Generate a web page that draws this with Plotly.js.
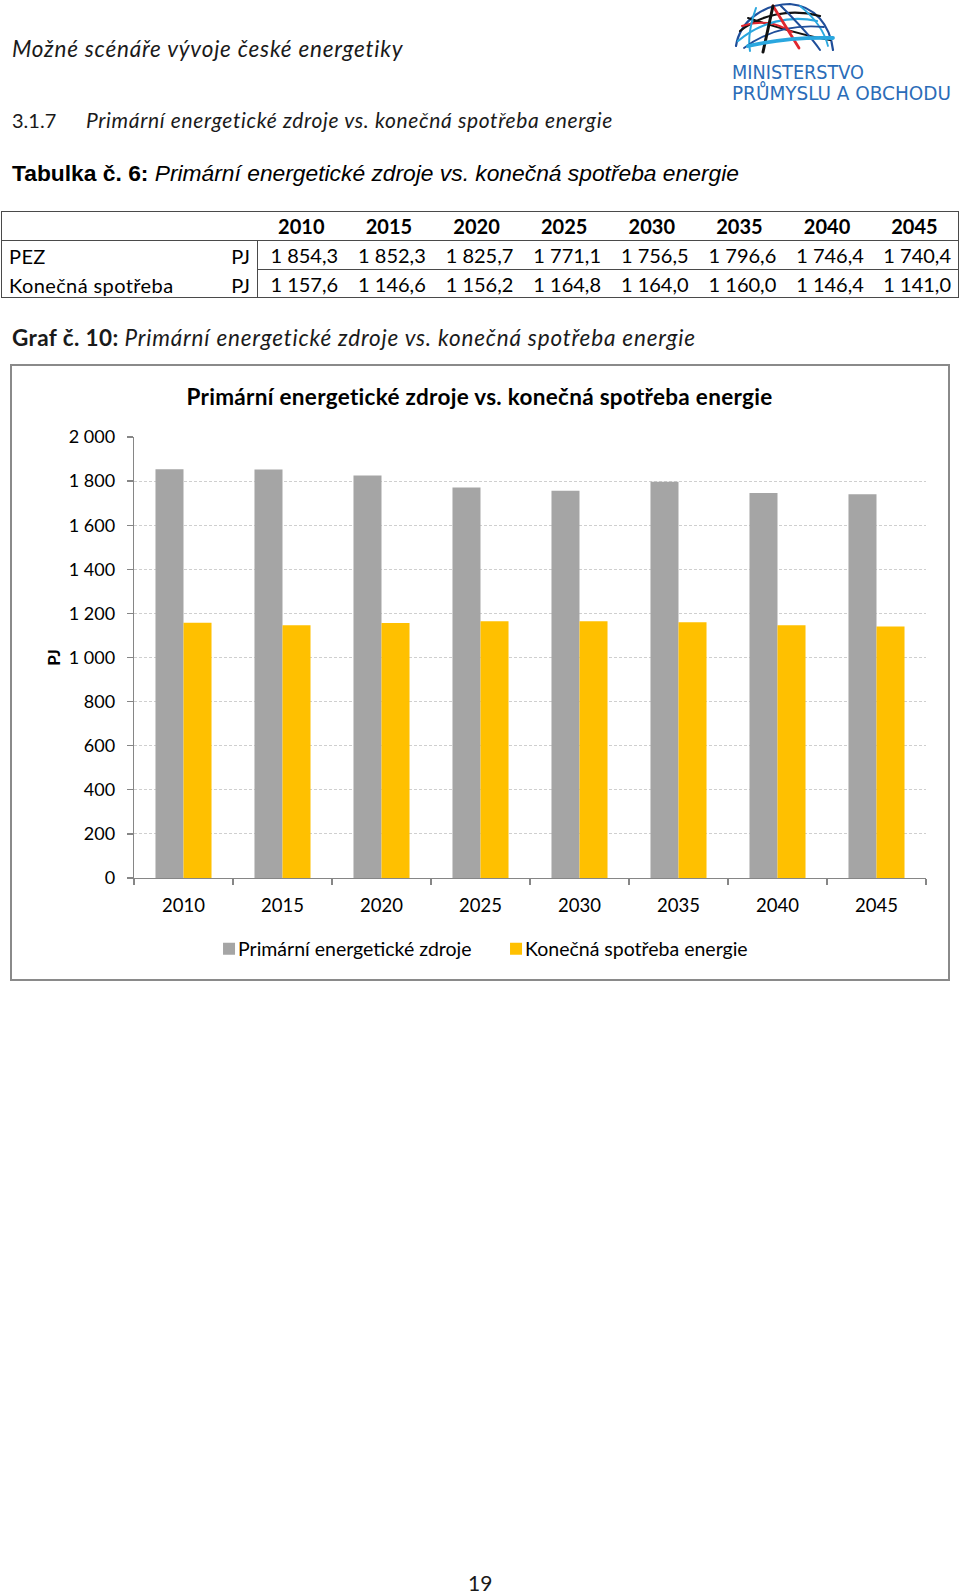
<!DOCTYPE html>
<html><head><meta charset="utf-8">
<script src="https://cdn.plot.ly/plotly-3.0.1.min.js"></script>
<style>
html,body{margin:0;padding:0;background:#fff}
body{width:960px;height:1595px;position:relative;overflow:hidden;font-family:Lato,"Open Sans",sans-serif;color:#000}
.t{position:absolute;white-space:nowrap;line-height:1}
.i{font-style:italic}
#tbl{position:absolute;left:1px;top:211px;width:958px;border-collapse:collapse;table-layout:fixed;border:1.5px solid #4a4a4a;font-family:Lato,sans-serif;font-size:20px}
#tbl td,#tbl th{padding:0;line-height:1;white-space:nowrap}
#tbl tr.h th,#tbl tr.h td{border-bottom:1.5px solid #4a4a4a;height:28px;font-weight:bold;text-align:center}
#tbl tr.r1 td{height:28px}
#tbl tr.r2 td{height:27px}
#tbl tr.r1 td.v{border-bottom:1px solid #4a4a4a}
#tbl td.l{border-right:1.5px solid #4a4a4a;position:relative}
#tbl td.l .n{position:absolute;left:7px;top:5px;letter-spacing:0.4px}
#tbl td.l .u{position:absolute;right:7px;top:5px}
#tbl td.v{text-align:right;padding-right:7px}
#frame{position:absolute;left:10px;top:364px;width:936px;height:613px;border:2px solid #8a8a8a}
#chart{position:absolute;left:11px;top:365px;width:937px;height:615px}
</style></head><body>

<div class="t i" style="left:12px;top:38px;font-size:22.5px;letter-spacing:0.8px;color:#1a1a1a">Možné scénáře vývoje české energetiky</div>

<svg style="position:absolute;left:720px;top:0" width="240" height="105" viewBox="0 0 240 105">
  <g fill="none" stroke-linecap="round">
    <path d="M16,46 C20,20 45,4 70,4 C95,6 110,25 113,50" stroke="#1f4e9a" stroke-width="2.2"/>
    <path d="M20,31 C40,15 70,8 100,16" stroke="#111" stroke-width="2.2"/>
    <path d="M28,18 C50,25 80,35 110,40" stroke="#111" stroke-width="2"/>
    <path d="M22,26 C40,20 55,22 72,32" stroke="#e0262e" stroke-width="2"/>
    <path d="M18,41 C40,22 70,15 97,21" stroke="#2aa7df" stroke-width="2.2"/>
    <path d="M60,5 C75,20 90,35 100,50" stroke="#1f4e9a" stroke-width="2"/>
    <path d="M36,8 C30,25 28,40 30,51" stroke="#2aa7df" stroke-width="2"/>
    <path d="M80,6 C95,18 104,30 108,46" stroke="#2aa7df" stroke-width="1.8"/>
    <path d="M24,48 C45,32 70,24 104,27" stroke="#1f4e9a" stroke-width="1.8"/>
    <path d="M53,6 L79,48" stroke="#e0262e" stroke-width="2.8"/>
    <path d="M43,52 L53,6" stroke="#111" stroke-width="3"/>
    <path d="M28,46 C55,40 85,37 113,38" stroke="#2aa7df" stroke-width="3.8"/>
  </g>
  <text x="12" y="79" font-family="Liberation Sans Narrow, DejaVu Sans Condensed, Liberation Sans" font-size="19" fill="#2b6cb8" textLength="132" lengthAdjust="spacingAndGlyphs">MINISTERSTVO</text>
  <text x="12" y="100" font-family="Liberation Sans Narrow, DejaVu Sans Condensed, Liberation Sans" font-size="19" fill="#2b6cb8" textLength="219" lengthAdjust="spacingAndGlyphs">PRŮMYSLU A OBCHODU</text>
</svg>

<div class="t" style="left:12px;top:110px;font-size:20px;color:#1a1a1a">3.1.7</div>
<div class="t i" style="left:86px;top:109px;font-size:21px;letter-spacing:0.65px;color:#1a1a1a">Primární energetické zdroje vs. konečná spotřeba energie</div>

<div class="t" style="left:12px;top:162px;font-size:22.8px;font-family:'Liberation Sans',Arial,sans-serif"><b>Tabulka č. 6:</b> <span class="i">Primární energetické zdroje vs. konečná spotřeba energie</span></div>

<table id="tbl"></table>

<div class="t" style="left:12px;top:327px;font-size:22.5px;color:#1a1a1a"><b style="letter-spacing:0.4px">Graf č. 10:</b> <span class="i" style="letter-spacing:0.82px">Primární energetické zdroje vs. konečná spotřeba energie</span></div>

<div id="frame"></div>
<div id="chart"></div>

<div class="t" style="left:468px;top:1572px;font-size:21px;color:#1a1a1a">19</div>

<script>
// ---- data ----
const years = ['2010', '2015', '2020', '2025', '2030', '2035', '2040', '2045'];
const pez = [1854.3, 1852.3, 1825.7, 1771.1, 1756.5, 1796.6, 1746.4, 1740.4];
const konecna = [1157.6, 1146.6, 1156.2, 1164.8, 1164.0, 1160.0, 1146.4, 1141.0];
const rowLabels = ['PEZ', 'Konečná spotřeba'];
const unit = 'PJ';
const seriesNames = ['Primární energetické zdroje', 'Konečná spotřeba energie'];
const chartTitle = 'Primární energetické zdroje vs. konečná spotřeba energie';
const yTitle = 'PJ';

// ---- table ----
function fmt(v) {
  const s = v.toFixed(1).split('.');
  const intPart = s[0].replace(/\B(?=(\d{3})+(?!\d))/g, ' ');
  return intPart + ',' + s[1];
}
(function buildTable() {
  const t = document.getElementById('tbl');
  let html = '<colgroup><col style="width:256px">' + years.map(() => '<col>').join('') + '</colgroup>';
  html += '<tr class="h"><td></td>' + years.map(y => '<th>' + y + '</th>').join('') + '</tr>';
  [pez, konecna].forEach((arr, i) => {
    html += '<tr class="r' + (i + 1) + '"><td class="l"><span class="n">' + rowLabels[i] + '</span><span class="u">' + unit + '</span></td>' +
      arr.map(v => '<td class="v">' + fmt(v) + '</td>').join('') + '</tr>';
  });
  t.innerHTML = html;
})();

// ---- chart ----
const traces = [
  {type: 'bar', name: seriesNames[0], x: years, y: pez, marker: {color: '#a5a5a5'}},
  {type: 'bar', name: seriesNames[1], x: years, y: konecna, marker: {color: '#ffc000'}}
];
const H = 615;
const layout = {
  width: 937, height: H,
  margin: {l: 123, r: 22, t: 72, b: 102, pad: 0},
  paper_bgcolor: 'rgba(0,0,0,0)', plot_bgcolor: 'rgba(0,0,0,0)',
  separators: ', ',
  font: {family: 'Lato, sans-serif', size: 18, color: '#000'},
  title: {text: '<b>' + chartTitle + '</b>', xref: 'container', x: 0.5, xanchor: 'center',
          yref: 'container', y: 1 - 32 / H, yanchor: 'middle',
          font: {family: 'Lato, sans-serif', size: 22.5, color: '#000'}},
  barmode: 'group', bargap: 0.434, bargroupgap: 0,
  xaxis: {type: 'category', showline: true, linecolor: '#868686', linewidth: 1.3,
          ticks: 'outside', tickson: 'boundaries', ticklen: 6, tickcolor: '#868686', tickwidth: 1.3,
          showgrid: false, tickfont: {size: 18.5}, ticklabelstandoff: 10, fixedrange: true},
  yaxis: {range: [0, 2000], tick0: 0, dtick: 200, showline: true, linecolor: '#868686', linewidth: 1.3,
          ticks: 'outside', ticklen: 6, tickcolor: '#868686', tickwidth: 1.3,
          showgrid: true, gridcolor: '#cfcfcf', gridwidth: 1, griddash: '3px,2px',
          zeroline: false, separatethousands: true, tickformat: ',d', ticklabelstandoff: 8,
          tickfont: {size: 18}, fixedrange: true,
          title: {text: '<b>' + yTitle + '</b>', font: {size: 17}, standoff: 3}},
  showlegend: true,
  legend: {orientation: 'h', xref: 'container', x: 0.5059, xanchor: 'center',
           yref: 'container', y: 1 - 584 / H, yanchor: 'middle',
           entrywidth: 242, entrywidthmode: 'pixels',
           font: {size: 19.5}, traceorder: 'normal', bgcolor: 'rgba(0,0,0,0)'}
};
Plotly.newPlot('chart', traces, layout, {staticPlot: true, displayModeBar: false}).then(function () {
  const tt = document.querySelector('#chart .gtitle');
  if (tt) tt.style.letterSpacing = '0.3px';
  // tighten gap between legend swatch and its label, as in the original
  document.querySelectorAll('#chart .legend .legendpoints').forEach(function (g) {
    g.setAttribute('transform', 'translate(11,0)');
  });
});
</script>
</body></html>
